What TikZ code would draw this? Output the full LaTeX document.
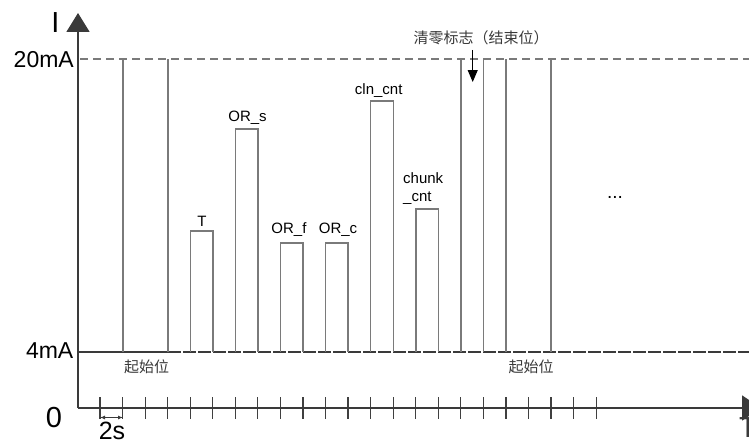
\documentclass[tikz,border=0pt]{standalone}
\usepackage{fontspec}
\setmainfont{Liberation Sans}
\newfontfamily\cjk{Noto Sans CJK SC}
\usetikzlibrary{arrows.meta}
\definecolor{pgray}{HTML}{7A7A7A}
\definecolor{dgray}{HTML}{3A3A3A}
\definecolor{tgray}{HTML}{404040}
\tikzset{
  axisline/.style={draw=dgray, line width=1.6pt},
  pulse/.style={draw=pgray, line width=1.3pt},
  refline/.style={draw=pgray, line width=1.2pt, dash pattern=on 8pt off 5pt},
  baseline4/.style={draw=dgray, line width=1.2pt, dash pattern=on 12.5pt off 2.5pt},
  tickmark/.style={draw=tgray, line width=1.2pt},
  lbl/.style={inner sep=0pt, font=\fontsize{15}{18}\selectfont, text=black},
  big/.style={inner sep=0pt, font=\fontsize{23}{26}\selectfont, text=black},
  huge/.style={inner sep=0pt, font=\fontsize{29}{32}\selectfont, text=black},
  cjklbl/.style={inner sep=0pt, font=\cjk\fontsize{15}{18}\selectfont, text=dgray},
}
\begin{document}
\begin{tikzpicture}[x=1pt,y=-1pt]
\useasboundingbox (0,0) rectangle (749,444);
\fill[white] (0,0) rectangle (749,444);
% reference lines
\draw[refline] (80,59) -- (749,59);
\draw[baseline4] (168,352) -- (749,352);
\draw[draw=dgray, line width=1.2pt] (78,352) -- (168,352);
% start bit
\draw[pulse] (123,352) -- (123,59);
\draw[pulse] (168,352) -- (168,59);
% data pulses
\draw[pulse] (190.5,352) -- (190.5,231) -- (213,231) -- (213,352);
\draw[pulse] (235.5,352) -- (235.5,129) -- (258,129) -- (258,352);
\draw[pulse] (280.5,352) -- (280.5,243) -- (303,243) -- (303,352);
\draw[pulse] (325.5,352) -- (325.5,243) -- (348,243) -- (348,352);
\draw[pulse] (370.8,352) -- (370.8,101) -- (393.3,101) -- (393.3,352);
\draw[pulse] (416,352) -- (416,209) -- (438.5,209) -- (438.5,352);
% end bit
\draw[pulse] (461,352) -- (461,59);
\draw[pulse] (483.3,352) -- (483.3,59);
% next start bit
\draw[pulse] (506,352) -- (506,59);
\draw[pulse] (551,352) -- (551,59);
% ticks
\foreach \k in {0,...,22} {
  \draw[tickmark] ({100+22.55*\k},397) -- ({100+22.55*\k},419);
}
% axes
\coordinate (o) at (78,408);
\coordinate (ytop) at (78,13);
\coordinate (xend) at (761,408);
\draw[axisline, -{Triangle[width=23pt,length=19pt]}] (o) -- (ytop);
\draw[axisline, -{Triangle[width=25pt,length=19pt]}] (o) -- (xend);
% 2s arrow
\coordinate (s1) at (100,417.5);
\coordinate (s2) at (123,417.5);
\draw[draw=dgray, line width=1pt, {Latex[length=5pt,width=4pt]}-{Latex[length=5pt,width=4pt]}] (s1) -- (s2);
% axis labels
\node[huge] (lI) at (55.5,22.5) {I};
\node[big, anchor=east] (l20) at (74,59.5) {20mA};
\node[big, anchor=east] (l4) at (73.5,351) {4mA};
\node[huge] (l0) at (54,417.5) {0};
\node[inner sep=0pt, font=\fontsize{25}{28}\selectfont] (l2s) at (112,431) {2s};
\node[huge, anchor=north, text=dgray] (lT) at (748,417) {T};
% pulse labels
\node[lbl] (lt) at (202,221.5) {T};
\node[lbl] (lors) at (247.5,118) {OR\_s};
\node[lbl] (lorf) at (289,230) {OR\_f};
\node[lbl] (lorc) at (338,230) {OR\_c};
\node[lbl] (lcln) at (378.7,90.5) {cln\_cnt};
\node[lbl, align=left, anchor=west, font=\fontsize{15}{18}\selectfont] (lchunk) at (403,189) {chunk\\\_cnt};
\node[lbl, font=\fontsize{19}{22}\selectfont] (ldots) at (615,197) {...};
% chinese labels
\node[cjklbl] (st1) at (146.5,367) {起始位};
\node[cjklbl] (st2) at (531,367) {起始位};
\node[cjklbl] (clr) at (481,38) {清零标志（结束位）};
\coordinate (clrtip) at (472.7,82);
\draw[draw=black, line width=1pt, -{Triangle[width=10pt,length=12pt]}] (472.7,50) -- (clrtip);
\end{tikzpicture}
\end{document}
